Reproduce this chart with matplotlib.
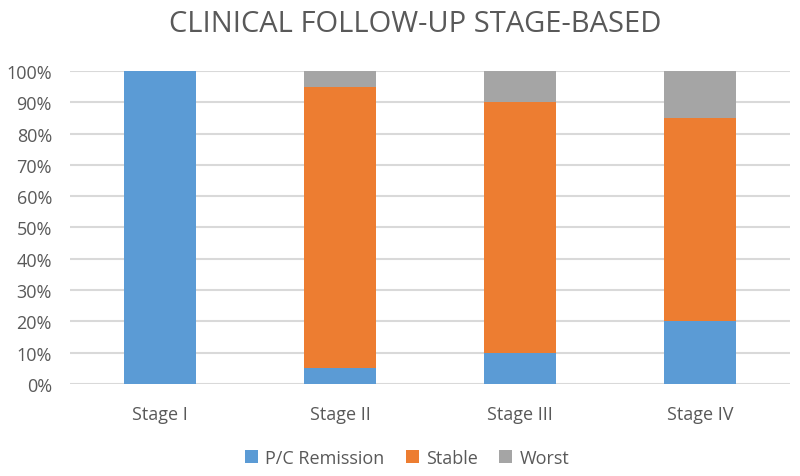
import matplotlib.pyplot as plt
import numpy as np
from matplotlib.ticker import PercentFormatter

plt.rcParams['font.family'] = ['Open Sans', 'DejaVu Sans']

stages = ["Stage I", "Stage II", "Stage III", "Stage IV"]
remission = [100, 5, 10, 20]
stable = [0, 90, 80, 65]
worst = [0, 5, 10, 15]

fig = plt.figure(figsize=(8, 4.77), dpi=100)
ax = fig.add_axes([0.0875, 0.193, 0.9, 0.656])

x = np.arange(len(stages))
w = 0.4
ax.bar(x, remission, w, color='#5b9bd5', label='P/C Remission', zorder=3)
ax.bar(x, stable, w, bottom=remission, color='#ed7d31', label='Stable', zorder=3)
bottom2 = np.array(remission) + np.array(stable)
ax.bar(x, worst, w, bottom=bottom2, color='#a5a5a5', label='Worst', zorder=3)

ax.set_xlim(-0.5, 3.5)
ax.set_ylim(0, 100)
ax.set_yticks(range(0, 101, 10))
ax.yaxis.set_major_formatter(PercentFormatter(decimals=0))
ax.set_xticks(x)
ax.set_xticklabels(stages)
ax.grid(axis='y', color='#d9d9d9', linewidth=1.5, zorder=0)
for s in ['top', 'right', 'left', 'bottom']:
    ax.spines[s].set_visible(False)
ax.tick_params(length=0, labelsize=13, colors='#595959')
ax.tick_params(axis='y', pad=13)
ax.tick_params(axis='x', pad=15)

fig.suptitle("CLINICAL FOLLOW-UP STAGE-BASED", x=0.519, y=0.978, fontsize=21, color='#595959')
fig.legend(loc='lower center', ncol=3, frameon=False, fontsize=13,
           labelcolor='#595959', handlelength=0.7, handleheight=0.7,
           handletextpad=0.4, columnspacing=1.2, bbox_to_anchor=(0.509, -0.015))

fig.savefig('out.png', dpi=100)
